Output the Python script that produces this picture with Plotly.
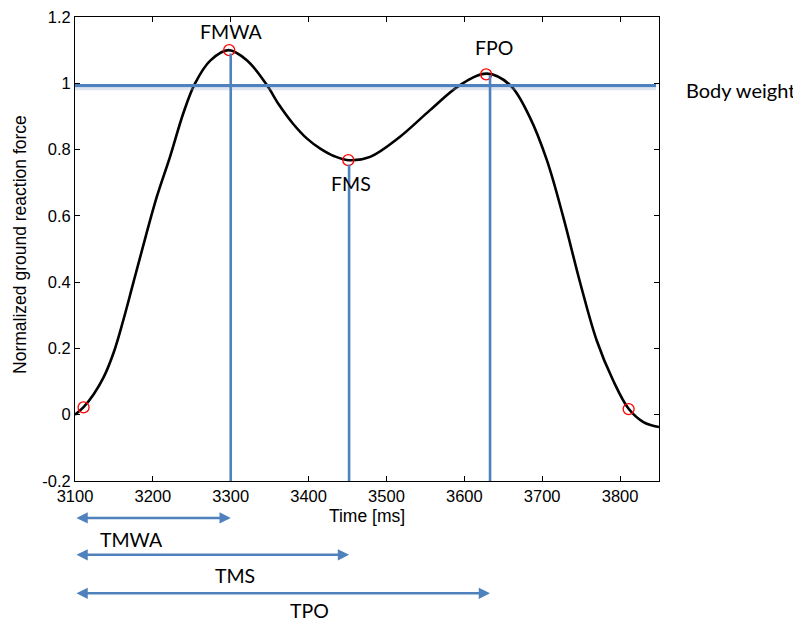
import plotly.graph_objects as go

# --- data ---
time_ms = [3100, 3111, 3124, 3137, 3150, 3162, 3174, 3186, 3205, 3222, 3239, 3254, 3274, 3297, 3321, 3346,
           3362, 3380, 3398, 3415, 3433, 3451, 3479, 3517, 3556, 3594, 3629, 3659, 3684, 3706, 3727, 3749,
           3770, 3791, 3811, 3830, 3850]
force = [0.0, 0.023, 0.062, 0.114, 0.190, 0.285, 0.390, 0.496, 0.657, 0.778, 0.909, 0.999, 1.069, 1.100, 1.069, 0.996,
         0.935, 0.878, 0.833, 0.803, 0.780, 0.768, 0.778, 0.838, 0.919, 0.994, 1.029, 0.994, 0.898, 0.768, 0.597, 0.396,
         0.224, 0.104, 0.018, -0.022, -0.037]

event_t = [3111, 3298, 3451, 3628, 3811]
event_f = [0.022, 1.100, 0.768, 1.027, 0.017]

marker_names = ["FMWA", "FMS", "FPO"]
marker_t = [3300, 3452, 3633]
marker_top = [1.09, 0.755, 1.024]
marker_label_x = [3300, 3454, 3638]
marker_label_y = [1.155, 0.697, 1.107]

interval_names = ["TMWA", "TMS", "TPO"]
t_start = 3100
body_weight = 0.993

x_ticks = [3100, 3200, 3300, 3400, 3500, 3600, 3700, 3800]
y_ticks = [-0.2, 0, 0.2, 0.4, 0.6, 0.8, 1, 1.2]
y_tick_text = ["-0.2", "0", "0.2", "0.4", "0.6", "0.8", "1", "1.2"]

BLUE = "#4F81BD"
LABEL_FONT = dict(family="Lato", size=19.5, color="black")
SANS = "Arial, Liberation Sans, sans-serif"
TICK_FONT = dict(family=SANS, size=16.5, color="black")
TITLE_FONT = dict(family=SANS, size=17.5, color="black")

fig = go.Figure()

# body weight shadow + line
fig.add_shape(type="line", xref="paper", yref="y", x0=0, x1=0.995,
              y0=body_weight - 0.010, y1=body_weight - 0.010,
              line=dict(color="rgba(150,170,200,0.3)", width=2.5))
fig.add_shape(type="line", xref="paper", yref="y", x0=0, x1=0.995,
              y0=body_weight, y1=body_weight, line=dict(color=BLUE, width=3.3))

# vertical event lines
for t, top in zip(marker_t, marker_top):
    fig.add_shape(type="line", xref="x", yref="y", x0=t, x1=t, y0=-0.2, y1=top,
                  line=dict(color=BLUE, width=2.6))

fig.add_trace(go.Scatter(x=time_ms, y=force, mode="lines",
                         line=dict(color="black", width=2.6, shape="spline", smoothing=1.0),
                         showlegend=False, hoverinfo="skip"))
fig.add_trace(go.Scatter(x=event_t, y=event_f, mode="markers",
                         marker=dict(symbol="circle-open", size=11, color="red", line=dict(width=1.3, color="red")),
                         showlegend=False))

# event labels
for name, lx, ly in zip(marker_names, marker_label_x, marker_label_y):
    fig.add_annotation(x=lx, y=ly, xref="x", yref="y", text=name, showarrow=False, font=LABEL_FONT,
                       xanchor="center", yanchor="middle")

fig.add_annotation(x=1.043, y=0.98, xref="paper", yref="y", text="Body weight", showarrow=False,
                   xanchor="left", yanchor="middle", font=dict(family="Lato", size=20, color="black"))

# interval arrows below the axis
arrow_y = [-0.0797, -0.159, -0.242]
label_y = [-0.127, -0.203, -0.279]
label_x = [3173, 3306, 3401]
for name, t, ay, lyy, lx in zip(interval_names, marker_t, arrow_y, label_y, label_x):
    fig.add_annotation(x=t, y=ay, xref="x", yref="paper", ax=t_start, ay=0, axref="x", ayref="pixel",
                       text="", showarrow=True, arrowside="end+start", arrowhead=2, arrowsize=0.9,
                       arrowwidth=2.5, arrowcolor=BLUE, standoff=0, startstandoff=0)
    fig.add_annotation(x=lx, y=lyy, xref="x", yref="paper", text=name, showarrow=False, font=LABEL_FONT,
                       xanchor="center", yanchor="middle")

# y axis title
fig.add_annotation(x=-0.094, y=0.509, xref="paper", yref="paper", text="Normalized ground reaction force",
                   textangle=-90, showarrow=False, xanchor="center", yanchor="middle", font=TITLE_FONT)

fig.update_xaxes(range=[3100, 3850], tickvals=x_ticks, ticks="inside", ticklen=5, tickcolor="black",
                 showline=True, linecolor="black", linewidth=1, mirror="ticks", showgrid=False, zeroline=False,
                 tickfont=TICK_FONT, ticklabeloverflow="allow",
                 title=dict(text="Time [ms]", font=TITLE_FONT, standoff=5))
fig.update_yaxes(range=[-0.2, 1.2], tickvals=y_ticks, ticktext=y_tick_text, ticks="inside", ticklen=5,
                 tickcolor="black", showline=True, linecolor="black", linewidth=1, mirror="ticks",
                 showgrid=False, zeroline=False, tickfont=TICK_FONT, ticklabeloverflow="allow")

# margins compensate the page's 8px body margin so the plot area lands at the reference position
fig.update_layout(width=801, height=621, margin=dict(l=67, r=150, t=9, b=148, autoexpand=False),
                  plot_bgcolor="white", paper_bgcolor="white", showlegend=False)

fig.write_html("out.html")
